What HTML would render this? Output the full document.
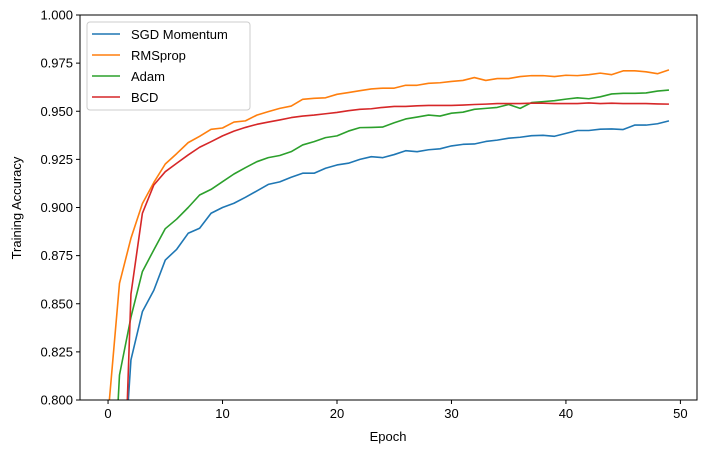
<!DOCTYPE html>
<html><head><meta charset="utf-8"><style>
html,body{margin:0;padding:0;background:#fff;width:709px;height:453px;overflow:hidden}
svg{font-family:"Liberation Sans","DejaVu Sans",sans-serif;display:block}
</style></head><body>
<svg id="chart" width="709" height="453">
<defs><clipPath id="clip"><rect x="80" y="15" width="617" height="385"/></clipPath></defs>
<rect x="0" y="0" width="709" height="453" fill="#fff"/>
<g id="series" clip-path="url(#clip)"></g>
<g id="axes"></g>
<rect x="80" y="15" width="617" height="385" fill="none" stroke="#000" stroke-width="1"/>
<g id="legend"></g>
<text x="388" y="441" font-size="13" text-anchor="middle">Epoch</text>
<text transform="translate(21,208) rotate(-90)" font-size="13" text-anchor="middle">Training Accuracy</text>
</svg>
<script>
const seriesNames = ["SGD Momentum","RMSprop","Adam","BCD"];
const colors = ["#1f77b4","#ff7f0e","#2ca02c","#d62728"];
const sgd = [0.6,0.73,0.8208,0.8459,0.857,0.8727,0.8783,0.8866,0.8892,0.897,0.9,0.9022,0.9053,0.9086,0.912,0.9133,0.9157,0.9178,0.9178,0.9204,0.9221,0.923,0.925,0.9264,0.9259,0.9275,0.9295,0.929,0.930,0.9305,0.932,0.9328,0.933,0.9343,0.935,0.936,0.9365,0.9373,0.9375,0.937,0.9385,0.94,0.94,0.9407,0.9408,0.9405,0.9428,0.9428,0.9435,0.945];
const rmsprop = [0.792,0.8606,0.884,0.902,0.913,0.9226,0.928,0.9337,0.937,0.9406,0.9413,0.9444,0.945,0.948,0.9498,0.9515,0.9527,0.9562,0.9567,0.957,0.9588,0.9597,0.9607,0.9616,0.962,0.962,0.9635,0.9635,0.9645,0.9648,0.9655,0.966,0.9675,0.966,0.967,0.967,0.968,0.9685,0.9685,0.968,0.9687,0.9685,0.969,0.9698,0.969,0.971,0.971,0.9705,0.9695,0.9715];
const adam = [0.7,0.813,0.843,0.8667,0.878,0.889,0.894,0.9,0.9065,0.9094,0.9134,0.9174,0.9207,0.9238,0.9259,0.927,0.929,0.9325,0.9342,0.9363,0.9372,0.9397,0.9415,0.9416,0.9418,0.944,0.946,0.947,0.948,0.9475,0.949,0.9495,0.951,0.9515,0.952,0.9535,0.9515,0.9545,0.955,0.9555,0.9563,0.957,0.9565,0.9575,0.959,0.9593,0.9593,0.9595,0.9605,0.961];
const bcd = [0.5,0.68,0.855,0.897,0.9117,0.9186,0.923,0.9273,0.9313,0.9342,0.9372,0.9397,0.9416,0.9432,0.9444,0.9455,0.9467,0.9475,0.948,0.9487,0.9494,0.9503,0.951,0.9513,0.952,0.9525,0.9525,0.9528,0.953,0.953,0.953,0.9532,0.9535,0.9537,0.954,0.954,0.954,0.9542,0.9542,0.954,0.954,0.954,0.9543,0.954,0.9542,0.954,0.954,0.954,0.9538,0.9537];
const xTicks = [0,10,20,30,40,50];
const yTicks = [0.800,0.825,0.850,0.875,0.900,0.925,0.950,0.975,1.000];

const NS="http://www.w3.org/2000/svg";
const L=80,R=697,T=15,B=400,xmin=-2.45,xmax=51.45,ymin=0.8,ymax=1.0;
const xs=v=>L+(v-xmin)/(xmax-xmin)*(R-L);
const ys=v=>B-(v-ymin)/(ymax-ymin)*(B-T);
function mk(t,a){const e=document.createElementNS(NS,t);for(const k in a)e.setAttribute(k,a[k]);return e;}
const axes=document.getElementById('axes');
xTicks.forEach(t=>{
  const l=mk('line',{x1:xs(t),x2:xs(t),y1:B,y2:B+4,stroke:'#000'});
  
  
  axes.appendChild(l);
  const tx=mk('text',{x:xs(t),y:B+18,'font-size':13,'text-anchor':'middle'});
  tx.textContent=t;
  
  
  axes.appendChild(tx);
});
yTicks.forEach(t=>{
  const l=mk('line',{x1:L-4,x2:L,y1:ys(t),y2:ys(t),stroke:'#000'});
  
  
  axes.appendChild(l);
  const tx=mk('text',{x:L-7,y:ys(t)+4.5,'font-size':13,'text-anchor':'end'});
  tx.textContent=t.toFixed(3);
  
  
  axes.appendChild(tx);
});
const sg=document.getElementById('series');
[sgd,rmsprop,adam,bcd].forEach((d,i)=>{
  const p=mk('polyline',{points:d.map((v,j)=>xs(j)+','+ys(v)).join(' '),fill:'none',stroke:colors[i],'stroke-width':1.6,'stroke-linejoin':'round'});
  
  
  sg.appendChild(p);
});
const lg=document.getElementById('legend');
const box=mk('rect',{x:87,y:22,width:163,height:88,rx:3,fill:'#fff','fill-opacity':0.8,stroke:'#ccc'});


lg.appendChild(box);
seriesNames.forEach((n,i)=>{
  const y=34+i*21;
  const l=mk('line',{x1:92,x2:120,y1:y,y2:y,stroke:colors[i],'stroke-width':1.6});
  
  
  lg.appendChild(l);
  const t=mk('text',{x:131,y:y+5,'font-size':13});
  t.textContent=n;
  
  
  lg.appendChild(t);
});
</script>
</body></html>
